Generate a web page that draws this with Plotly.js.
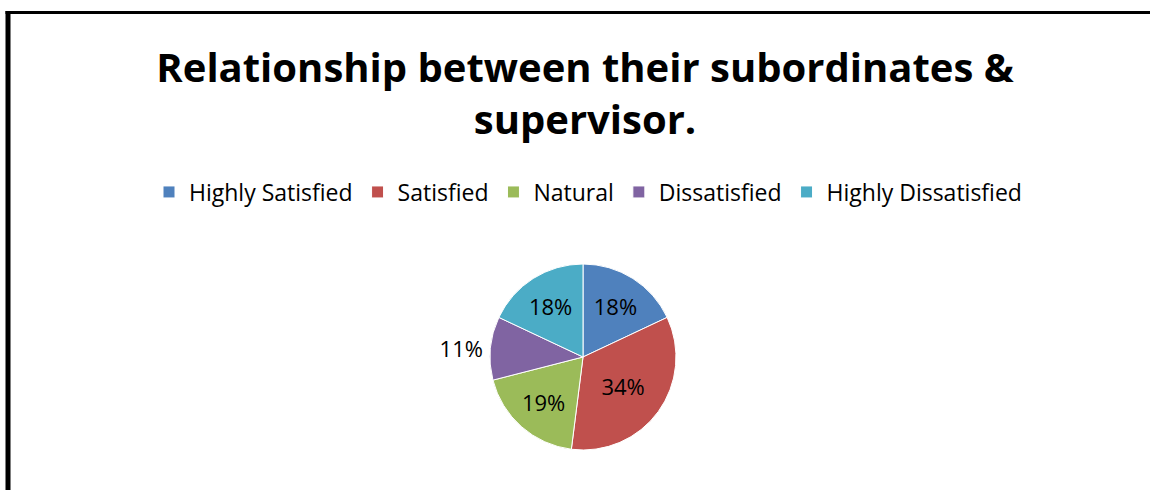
<!DOCTYPE html>
<html>
<head>
<meta charset="utf-8">
<script src="https://cdn.plot.ly/plotly-3.0.1.min.js"></script>
<style>html,body{margin:0;padding:0;background:#fff;overflow:hidden}#chart{width:1150px;height:490px}</style>
</head>
<body>
<div id="chart"></div>
<script>
const categories = ["Highly Satisfied", "Satisfied", "Natural", "Dissatisfied", "Highly Dissatisfied"];
const values = [18, 34, 19, 11, 18];
const colors = ["#4F81BD", "#C0504D", "#9BBB59", "#8064A2", "#4BACC6"];
const labelPositions = ["inside", "inside", "inside", "outside", "inside"];
const titleText = "Relationship between their subordinates &<br>supervisor.";

const W = 1150, H = 490;
const cx = 583, cy = 357, r = 93;

const trace = {
  type: "pie",
  labels: categories,
  values: values,
  sort: false,
  direction: "clockwise",
  rotation: 0,
  marker: {colors: colors, line: {color: "#ffffff", width: 1}},
  textinfo: "percent",
  textposition: labelPositions,
  insidetextorientation: "horizontal",
  textfont: {family: "Open Sans, sans-serif", size: 22, color: "#000000"},
  insidetextfont: {family: "Open Sans, sans-serif", size: 22, color: "#000000"},
  outsidetextfont: {family: "Open Sans, sans-serif", size: 22, color: "#000000"},
  hoverinfo: "label+percent",
  domain: {x: [(cx - r) / W, (cx + r) / W], y: [(H - cy - r) / H, (H - cy + r) / H]},
  automargin: false
};

const layout = {
  width: W, height: H,
  margin: {l: 0, r: 0, t: 0, b: 0},
  paper_bgcolor: "#ffffff",
  plot_bgcolor: "#ffffff",
  font: {family: "Open Sans, sans-serif", color: "#000000"},
  title: {
    text: titleText,
    font: {family: "Open Sans, sans-serif", size: 40, color: "#000000", weight: "bold"},
    x: 585 / W, xanchor: "center",
    y: 1 - 82 / H, yanchor: "middle",
    xref: "container", yref: "container"
  },
  showlegend: true,
  legend: {
    orientation: "h",
    x: 588 / W, xanchor: "center",
    y: 1 - 192 / H, yanchor: "middle",
    font: {family: "Open Sans, sans-serif", size: 23, color: "#000000"},
    itemgap: 26,
    traceorder: "normal"
  },
  shapes: [
    {type: "line", xref: "paper", yref: "paper", x0: 8 / W, x1: 8 / W, y0: -0.2, y1: 1 - 11 / H, line: {color: "#000000", width: 5}},
    {type: "line", xref: "paper", yref: "paper", x0: 5.5 / W, x1: 1.1, y0: 1 - 12.5 / H, y1: 1 - 12.5 / H, line: {color: "#000000", width: 3}}
  ]
};

Plotly.newPlot("chart", [trace], layout, {displayModeBar: false, staticPlot: true});
</script>
</body>
</html>
